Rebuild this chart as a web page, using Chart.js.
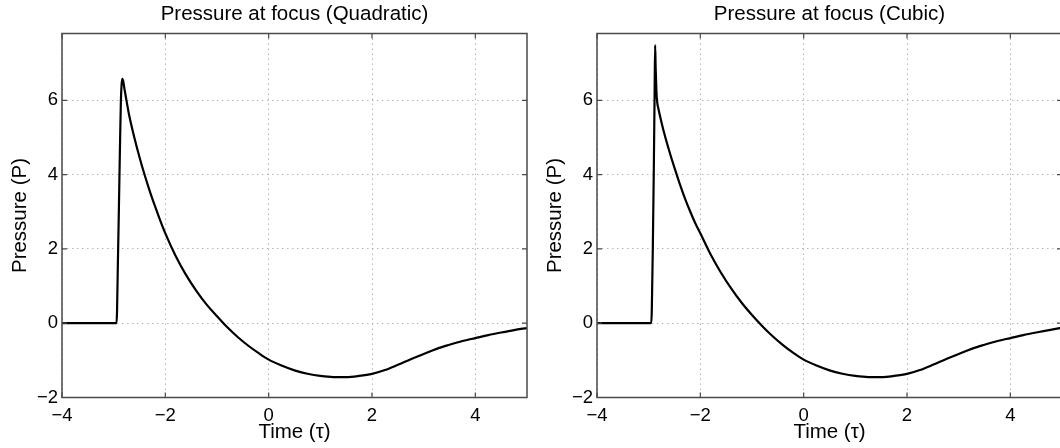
<!DOCTYPE html>
<html><head><meta charset="utf-8">
<script src="https://cdn.jsdelivr.net/npm/chart.js@4.4.0/dist/chart.umd.min.js"></script>
<style>
html,body{margin:0;padding:0;background:#fff;overflow:hidden;width:1060px;height:448px;position:relative;}
#c1{position:absolute;left:0;top:0;}
#c2{position:absolute;left:535px;top:0;}
</style></head><body>
<canvas id="c1" width="530" height="448"></canvas>
<canvas id="c2" width="530" height="448"></canvas>
<script>
// ---- data ----
const xTicks = [-4, -2, 0, 2, 4];
const yTicks = [-2, 0, 2, 4, 6];
const xRange = [-4, 5];
const yRange = [-2, 7.8];
const titles = ['Pressure at focus (Quadratic)', 'Pressure at focus (Cubic)'];
const xLabel = 'Time (\u03c4)';
const yLabel = 'Pressure (P)';

const quadTime = [-4, -3.5, -3, -2.945, -2.935, -2.92, -2.90, -2.88, -2.86, -2.845, -2.83, -2.815, -2.79, -2.75, -2.7, -2.6, -2.5, -2.4, -2.3, -2.2, -2.1, -2.0, -1.8, -1.6, -1.4, -1.2, -1.0, -0.8, -0.6, -0.4, -0.2, 0, 0.25, 0.5, 0.75, 1.0, 1.25, 1.5, 1.75, 2.0, 2.25, 2.5, 2.75, 3.0, 3.25, 3.5, 3.75, 4.0, 4.25, 4.5, 4.75, 5.0];
const quadP    = [0, 0, 0, 0, 0.3, 1.5, 3.0, 4.6, 6.0, 6.45, 6.58, 6.52, 6.3, 5.98, 5.6, 5.0, 4.47, 3.99, 3.55, 3.15, 2.77, 2.42, 1.81, 1.30, 0.87, 0.50, 0.19, -0.11, -0.37, -0.60, -0.80, -0.98, -1.14, -1.27, -1.36, -1.42, -1.45, -1.45, -1.42, -1.365, -1.26, -1.12, -0.97, -0.83, -0.69, -0.58, -0.48, -0.40, -0.32, -0.25, -0.185, -0.13];

const cubicTime = [-4, -3.5, -3, -2.95, -2.94, -2.92, -2.90, -2.885, -2.875, -2.865, -2.85, -2.835, -2.815, -2.8, -2.75, -2.7, -2.6, -2.5, -2.4, -2.3, -2.2, -2.1, -2.0, -1.8, -1.6, -1.4, -1.2, -1.0, -0.8, -0.6, -0.4, -0.2, 0, 0.25, 0.5, 0.75, 1.0, 1.25, 1.5, 1.75, 2.0, 2.25, 2.5, 2.75, 3.0, 3.25, 3.5, 3.75, 4.0, 4.25, 4.5, 4.75, 5.0];
const cubicP    = [0, 0, 0, 0, 0.3, 2.0, 4.2, 6.2, 7.49, 6.9, 6.25, 5.95, 5.8, 5.7, 5.4, 5.12, 4.63, 4.18, 3.76, 3.37, 3.02, 2.70, 2.42, 1.85, 1.36, 0.93, 0.55, 0.22, -0.08, -0.35, -0.59, -0.80, -0.98, -1.14, -1.27, -1.36, -1.42, -1.45, -1.45, -1.42, -1.365, -1.26, -1.12, -0.97, -0.83, -0.69, -0.58, -0.48, -0.40, -0.32, -0.25, -0.185, -0.12];

// ---- styling / rendering ----
const FONT = "'Liberation Sans', Arial, Helvetica, sans-serif";
const fmt = v => v < 0 ? '\u2212' + Math.abs(v) : String(v);

const boxPlugin = {
  id: 'matlabBox',
  afterDatasetsDraw(chart) {
    const { ctx, chartArea: a, scales: { x, y } } = chart;
    ctx.save();
    ctx.setLineDash([]);
    ctx.strokeStyle = '#4a4a4a';
    ctx.lineWidth = 1.5;
    ctx.strokeRect(a.left, a.top, a.right - a.left, a.bottom - a.top);
    ctx.lineWidth = 1.2;
    ctx.beginPath();
    x.ticks.forEach(t => {
      const p = x.getPixelForValue(t.value);
      ctx.moveTo(p, a.bottom); ctx.lineTo(p, a.bottom - 5);
      ctx.moveTo(p, a.top); ctx.lineTo(p, a.top + 5);
    });
    y.ticks.forEach(t => {
      const p = y.getPixelForValue(t.value);
      ctx.moveTo(a.left, p); ctx.lineTo(a.left + 5, p);
      ctx.moveTo(a.right, p); ctx.lineTo(a.right - 5, p);
    });
    ctx.stroke();
    ctx.restore();
  }
};

function makeChart(id, title, xs, ys) {
  const pts = xs.map((t, i) => ({ x: t, y: ys[i] }));
  return new Chart(document.getElementById(id), {
    type: 'line',
    data: { datasets: [{ data: pts, borderColor: '#000', borderWidth: 2.2, pointRadius: 0, fill: false, cubicInterpolationMode: 'monotone' }] },
    options: {
      responsive: false, animation: false, events: [],
      layout: { padding: { left: 0, right: 3, top: 0, bottom: 0 } },
      plugins: {
        legend: { display: false }, tooltip: { enabled: false },
        title: { display: true, text: title, fullSize: false, color: '#000',
          font: { family: FONT, size: 20.5, weight: 'normal', lineHeight: 1.2 },
          padding: { top: 2, bottom: 6.9 } }
      },
      scales: {
        x: {
          type: 'linear', min: xRange[0], max: xRange[1],
          afterBuildTicks: s => { s.ticks = xTicks.map(v => ({ value: v })); },
          afterFit: s => { s.height = 50.5; },
          grid: { color: '#b5b5b5', lineWidth: 1, drawTicks: false },
          border: { display: false, dash: [1.5, 3.5] },
          ticks: { color: '#000', padding: 7, maxRotation: 0, autoSkip: false, font: { family: FONT, size: 18.5 }, callback: v => fmt(v) },
          title: { display: true, text: xLabel, color: '#000', font: { family: FONT, size: 20.5 }, padding: { top: 0, bottom: 3.5 } }
        },
        y: {
          type: 'linear', min: yRange[0], max: yRange[1],
          afterBuildTicks: s => { s.ticks = yTicks.map(v => ({ value: v })); },
          afterFit: s => { s.width = 62; },
          grid: { color: '#b5b5b5', lineWidth: 1, drawTicks: false },
          border: { display: false, dash: [1.5, 3.5] },
          ticks: { color: '#000', padding: 4, font: { family: FONT, size: 18.5 }, callback: v => fmt(v) },
          title: { display: true, text: yLabel, color: '#000', font: { family: FONT, size: 20.5 }, padding: { top: 8, bottom: 0 } }
        }
      }
    },
    plugins: [boxPlugin]
  });
}

makeChart('c1', titles[0], quadTime, quadP);
makeChart('c2', titles[1], cubicTime, cubicP);
</script>
</body></html>
